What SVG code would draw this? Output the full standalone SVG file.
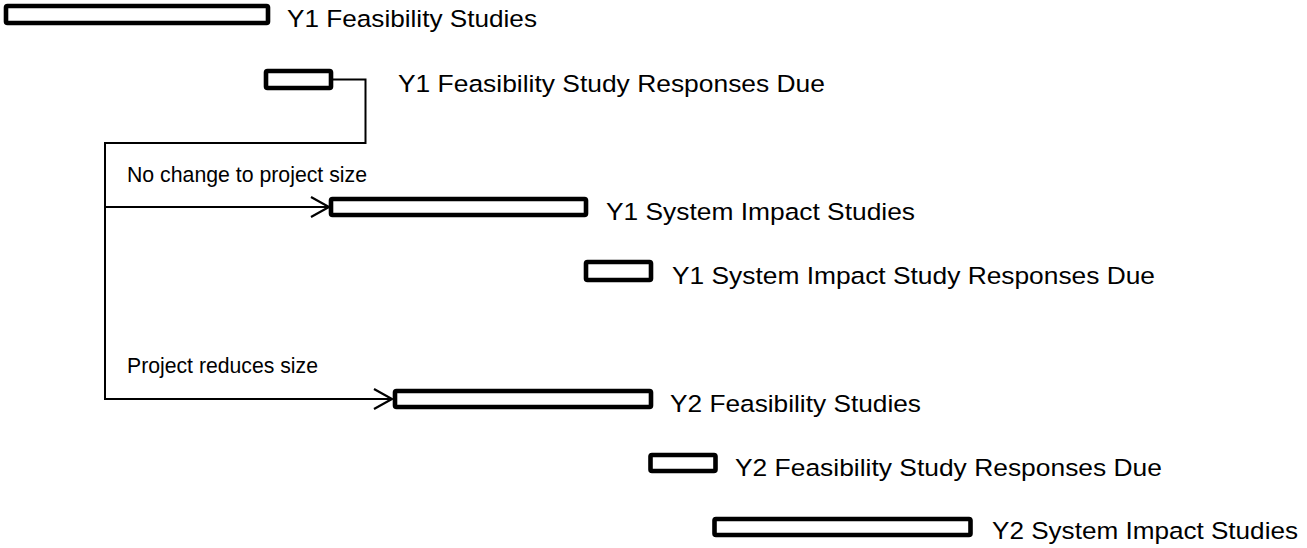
<svg xmlns="http://www.w3.org/2000/svg" width="1307" height="548" viewBox="0 0 1307 548">
<style>
.bar{fill:#fff;stroke:#000;stroke-width:4.6;stroke-linejoin:round}
.lbl{font-family:"Liberation Sans",Arial,sans-serif;font-size:24.5px;fill:#000}
.sm{font-family:"Liberation Sans",Arial,sans-serif;font-size:21.3px;fill:#000}
.con{fill:none;stroke:#000;stroke-width:2}
</style>
<defs>
<marker id="arr" markerUnits="userSpaceOnUse" markerWidth="40" markerHeight="40" viewBox="-20 -20 40 40" refX="0" refY="0" orient="auto" overflow="visible">
<path d="M-18,-10 L0,0 L-18,10" fill="none" stroke="#000" stroke-width="2.2"/>
</marker>
</defs>
<rect width="1307" height="548" fill="#fff"/>
<g id="connectors">
<path class="con" d="M333,79.5 H365.5 V143 H105 V399 H392" marker-end="url(#arr)"/>
<path class="con" d="M105,207 H329" marker-end="url(#arr)"/>
<text class="sm" x="127" y="182" textLength="240" lengthAdjust="spacingAndGlyphs">No change to project size</text>
<text class="sm" x="127" y="373" textLength="191" lengthAdjust="spacingAndGlyphs">Project reduces size</text>
</g>
<g id="y1-fs">
<rect class="bar" x="6" y="6" width="262" height="17" rx="1.5"/>
<text class="lbl" x="287" y="27" textLength="250" lengthAdjust="spacingAndGlyphs">Y1 Feasibility Studies</text>
</g>
<g id="y1-fs-resp">
<rect class="bar" x="266" y="71" width="65" height="17" rx="1.5"/>
<text class="lbl" x="398" y="92" textLength="427" lengthAdjust="spacingAndGlyphs">Y1 Feasibility Study Responses Due</text>
</g>
<g id="y1-sis">
<rect class="bar" x="331" y="199" width="255" height="16" rx="1.5"/>
<text class="lbl" x="606" y="220" textLength="309" lengthAdjust="spacingAndGlyphs">Y1 System Impact Studies</text>
</g>
<g id="y1-sis-resp">
<rect class="bar" x="586" y="262" width="65" height="18" rx="1.5"/>
<text class="lbl" x="672" y="284" textLength="483" lengthAdjust="spacingAndGlyphs">Y1 System Impact Study Responses Due</text>
</g>
<g id="y2-fs">
<rect class="bar" x="395" y="391" width="256" height="16" rx="1.5"/>
<text class="lbl" x="670" y="412" textLength="251" lengthAdjust="spacingAndGlyphs">Y2 Feasibility Studies</text>
</g>
<g id="y2-fs-resp">
<rect class="bar" x="650.5" y="455" width="65" height="16" rx="1.5"/>
<text class="lbl" x="735" y="476" textLength="427" lengthAdjust="spacingAndGlyphs">Y2 Feasibility Study Responses Due</text>
</g>
<g id="y2-sis">
<rect class="bar" x="714.5" y="519" width="256" height="16" rx="1.5"/>
<text class="lbl" x="992" y="539" textLength="306" lengthAdjust="spacingAndGlyphs">Y2 System Impact Studies</text>
</g>
</svg>
